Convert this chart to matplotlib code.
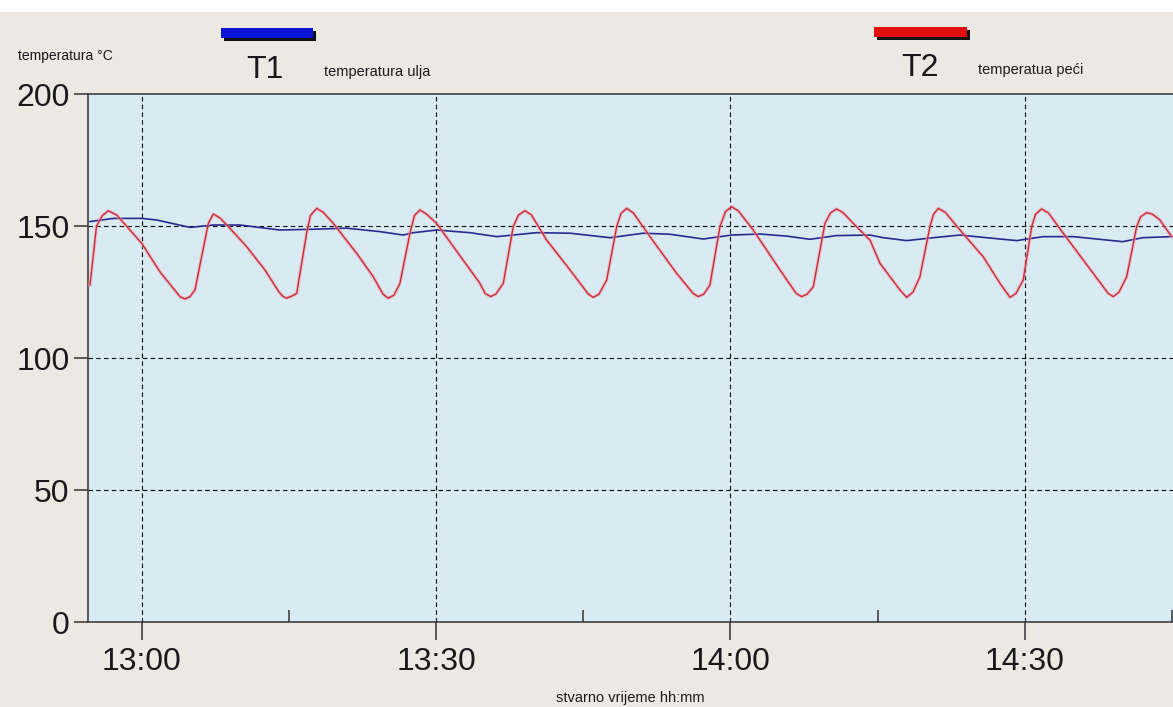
import matplotlib
matplotlib.use("Agg")
import matplotlib.pyplot as plt
from matplotlib.patches import Rectangle
from matplotlib.ticker import FixedLocator, FixedFormatter

plt.rcParams['font.family'] = ['Liberation Sans', 'DejaVu Sans']

# minutes relative to 13:00
t1_time = [-5.27, -2.89, 0.0, 1.53, 4.92, 7.30, 10.02, 14.09, 17.49, 20.89, 24.28,
           26.66, 27.68, 30.06, 33.46, 36.18, 40.25, 43.65, 47.73, 51.12, 53.84,
           57.23, 60.12, 63.01, 65.73, 68.10, 70.82, 74.22, 75.57, 77.96, 80.67,
           83.39, 86.11, 89.16, 91.88, 94.94, 97.59, 99.97, 102.01, 104.91]
t1_vals = [151.7, 152.9, 152.9, 152.3, 149.5, 150.4, 150.4, 148.5, 148.8, 149.2, 147.9,
           146.6, 147.5, 148.5, 147.5, 146.0, 147.5, 147.3, 145.6, 147.3, 146.9,
           145.1, 146.6, 147.0, 146.2, 145.0, 146.4, 146.6, 145.6, 144.5, 145.6,
           146.6, 145.6, 144.5, 146.0, 146.0, 145.0, 144.1, 145.6, 146.0]

t2_time = [-5.27, -4.6, -4.0, -3.40, -2.55, 0.0, 1.86, 3.90, 4.41, 4.9, 5.43, 6.11,
           6.79, 7.30, 8.0, 8.83, 10.70, 12.56, 14.0, 14.43, 14.78, 15.30, 15.80,
           16.81, 17.2, 17.83, 18.5, 19.53, 21.91, 23.60, 24.6, 25.13, 25.7, 26.32,
           27.34, 27.8, 28.36, 29.0, 30.06, 34.47, 35.0, 35.57, 36.1, 36.85, 37.87,
           38.4, 39.06, 39.7, 41.27, 43.65, 45.5, 46.02, 46.6, 47.39, 48.41, 48.85,
           49.42, 50.1, 51.80, 54.52, 56.2, 56.72, 57.3, 57.91, 58.93, 59.5, 60.12,
           60.8, 62.32, 65.05, 66.7, 67.26, 67.8, 68.44, 69.63, 70.2, 70.82, 71.5,
           72.52, 74.22, 75.24, 77.28, 77.96, 78.6, 79.31, 80.33, 80.7, 81.18, 81.9,
           83.39, 85.76, 87.47, 88.49, 89.1, 89.84, 90.70, 91.1, 91.71, 92.4, 93.91,
           96.97, 98.5, 99.01, 99.6, 100.38, 101.40, 101.8, 102.41, 103.0, 103.77,
           104.96]
t2_vals = [127.7, 150.0, 154.0, 155.8, 154.2, 143.5, 132.7, 123.3, 122.4, 123.2, 125.8, 138.4,
           151.0, 154.6, 153.0, 149.8, 142.2, 133.4, 125.0, 123.3, 122.7, 123.5, 124.5,
           147.3, 154.0, 156.7, 155.2, 151.0, 139.7, 130.8, 124.2, 122.7, 123.8, 128.3,
           147.3, 154.0, 156.1, 154.6, 151.0, 128.3, 124.5, 123.3, 124.3, 128.3, 149.8,
           154.2, 155.8, 154.3, 144.7, 133.4, 124.3, 123.0, 124.2, 129.6, 149.8, 154.8,
           156.7, 155.0, 146.0, 132.1, 124.5, 123.3, 124.3, 127.7, 149.8, 155.5, 157.3,
           155.8, 148.5, 133.4, 124.5, 123.3, 124.2, 127.0, 151.0, 155.0, 156.5, 155.0,
           151.0, 144.7, 135.9, 125.8, 123.0, 125.0, 130.8, 149.8, 154.5, 156.7, 155.2,
           148.5, 138.4, 128.3, 123.0, 124.5, 129.6, 149.8, 154.5, 156.5, 155.0, 147.3,
           132.1, 124.5, 123.3, 125.0, 130.8, 149.8, 153.5, 155.1, 154.5, 152.3,
           146.0]

x_major = [0, 30, 60, 90]
x_labels = ["13:00", "13:30", "14:00", "14:30"]
x_minor = [15, 45, 75, 105]
y_ticks = [0, 50, 100, 150, 200]

W, H = 1173, 707
fig = plt.figure(figsize=(W / 100, H / 100), dpi=100)
fig.patch.set_facecolor('#ece9e3')

def fx(px):
    return px / W

def fy(py):
    return 1 - py / H

# white strip at top
fig.patches.append(Rectangle((0, fy(12)), 1, 12 / H, transform=fig.transFigure,
                             facecolor='white', edgecolor='none', zorder=0))

ax = fig.add_axes([fx(87.7), fy(622.3), fx(1173) - fx(87.7), fy(94) - fy(622.3)])
ax.set_facecolor('#d8ebf3')
ax.set_xlim(-5.5, 105.1)
ax.set_ylim(0, 200)

ax.plot(t1_time, t1_vals, color='#2a2a8e', lw=1.2, zorder=3, solid_joinstyle='round')
ax.plot(t2_time, t2_vals, color='#f3a0a8', lw=2.6, alpha=0.55, zorder=3, solid_joinstyle='round')
ax.plot(t2_time, t2_vals, color='#c92c3c', lw=1.0, zorder=4, solid_joinstyle='round')

for v in x_major:
    ax.axvline(v, color='black', lw=0.8, ls=(0, (4, 3)), zorder=2)
for v in y_ticks[1:-1]:
    ax.axhline(v, color='black', lw=0.8, ls=(0, (4, 3)), zorder=2)

ax.xaxis.set_major_locator(FixedLocator(x_major))
ax.xaxis.set_major_formatter(FixedFormatter(x_labels))
ax.xaxis.set_minor_locator(FixedLocator(x_minor))
ax.set_yticks(y_ticks)
ax.tick_params(axis='x', which='major', direction='out', length=13, width=1.1,
               color='#333333', labelsize=23, pad=5, labelcolor='#1a1a1a')
ax.tick_params(axis='x', which='minor', direction='in', length=8.5, width=1.1,
               color='#333333')
ax.tick_params(axis='y', direction='out', length=10, width=1.1, color='#333333',
               labelsize=23, pad=3, labelcolor='#1a1a1a')

for s in ['left', 'bottom', 'top']:
    ax.spines[s].set_color('#333333')
    ax.spines[s].set_linewidth(1.1)
ax.spines['right'].set_visible(False)

# legend-like header
def bar(x0, y0, x1, y1, color):
    fig.patches.append(Rectangle((fx(x0 + 3), fy(y1 + 3)), fx(x1 - x0), (y1 - y0) / H,
                                 transform=fig.transFigure, facecolor='#111111',
                                 edgecolor='none', zorder=1))
    fig.patches.append(Rectangle((fx(x0), fy(y1)), fx(x1 - x0), (y1 - y0) / H,
                                 transform=fig.transFigure, facecolor=color,
                                 edgecolor='none', zorder=2))

bar(220.7, 27.7, 313, 37.7, '#0a14d6')
bar(874, 26.7, 966.7, 36.7, '#e01010')

fig.text(fx(18), fy(56), "temperatura °C", fontsize=10, ha='left', va='center', color='#1a1a1a')
fig.text(fx(265), fy(70), "T1", fontsize=23, ha='center', va='center', color='#1a1a1a')
fig.text(fx(324), fy(72), "temperatura ulja", fontsize=10.5, ha='left', va='center', color='#1a1a1a')
fig.text(fx(920), fy(68), "T2", fontsize=23, ha='center', va='center', color='#1a1a1a')
fig.text(fx(978), fy(70), "temperatua peći", fontsize=10.5, ha='left', va='center', color='#1a1a1a')
fig.text(fx(630), fy(705), "stvarno vrijeme hh:mm", fontsize=10.5, ha='center', va='bottom', color='#1a1a1a')

fig.savefig("out.png", dpi=100, facecolor=fig.get_facecolor())
